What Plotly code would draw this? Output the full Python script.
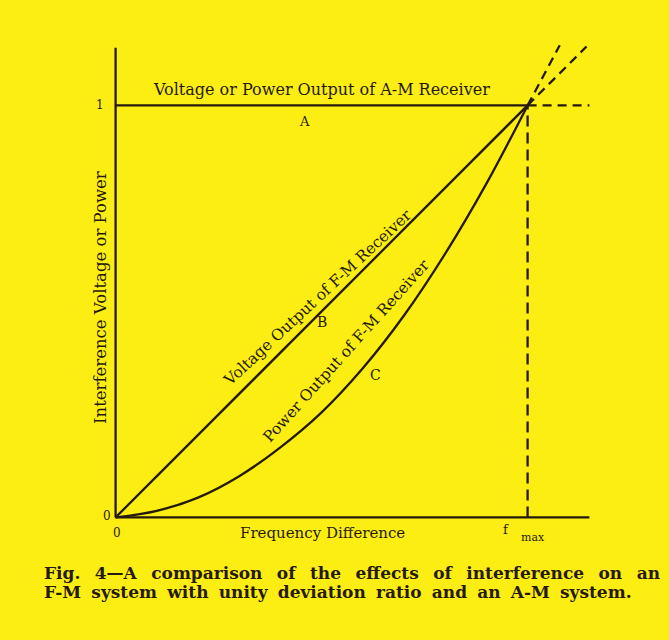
import plotly.graph_objects as go

# ---- data ----
freq = [0.0, 0.1, 0.2, 0.3, 0.4, 0.5, 0.6, 0.7, 0.8, 0.9, 1.0]
am_output = [1, 1, 1, 1, 1, 1, 1, 1, 1, 1, 1]            # curve A
fm_voltage = [0.0, 0.1, 0.2, 0.3, 0.4, 0.5, 0.6, 0.7, 0.8, 0.9, 1.0]  # curve B
fm_power = [0.0, 0.016, 0.048, 0.1, 0.17, 0.255, 0.362, 0.49, 0.64, 0.81, 1.0]  # curve C

ext_freq_a = [1.0, 1.15]
ext_a = [1.0, 1.0]
ext_freq_b = [1.0, 1.143]
ext_b = [1.0, 1.143]
ext_freq_c = [1.0, 1.078]
ext_c = [1.0, 1.146]
fmax_x = [1.0, 1.0]
fmax_y = [0.0, 1.0]
axis_x_end = 1.15
axis_y_end = 1.14

ink = "#261a0c"
bg = "#fcee12"
serif = "DejaVu Serif"

fig = go.Figure()

def line(x, y, dash="solid", shape="linear"):
    fig.add_trace(go.Scatter(x=x, y=y, mode="lines",
                             line=dict(color=ink, width=2.3, dash=dash, shape=shape),
                             hoverinfo="skip", showlegend=False))

# axes drawn as lines
line([0, axis_x_end], [0, 0])
line([0, 0], [0, axis_y_end])
# curves
line(freq, am_output)
line(freq, fm_voltage)
line(freq, fm_power, shape="spline")
# dashed extensions
line(ext_freq_a, ext_a, dash="9px,6px")
line(ext_freq_b, ext_b, dash="9px,6px")
line(ext_freq_c, ext_c, dash="9px,6px")
line(fmax_x, fmax_y, dash="11px,6px")

ann = []
def txt(x, y, s, size=14, angle=0, xref="x", yref="y", xa="center", ya="middle"):
    ann.append(dict(x=x, y=y, xref=xref, yref=yref, text=s,
                    showarrow=False, textangle=angle, xanchor=xa, yanchor=ya,
                    font=dict(family=serif, size=size, color=ink)))

def dx(px):
    return (px - 116) / 412.0
def dy(py):
    return (517 - py) / 412.0

txt(dx(322), dy(89), "Voltage or Power Output of A-M Receiver", size=16)
txt(dx(305), dy(121), "A", size=13)
txt(dx(318), dy(298), "Voltage Output of F-M Receiver", size=15.5, angle=-43)
txt(dx(322), dy(322), "B", size=14)
txt(dx(347), dy(351), "Power Output of F-M Receiver", size=15.5, angle=-48)
txt(dx(376), dy(375), "C", size=14)
txt(dx(101), dy(297), "Interference Voltage or Power", size=16.5, angle=-90)
txt(dx(323), dy(533), "Frequency Difference", size=15)
txt(dx(117), dy(533), "0", size=12)
txt(dx(107), dy(516), "0", size=12)
txt(dx(100), dy(105), "1", size=12)
txt(dx(506), dy(529), "f", size=13)
txt(dx(533), dy(537), "max", size=11)

fig.update_layout(annotations=ann)

# caption (pixel positions, converted below)
sp1 = " \u2002"
sp2 = " \u2005"
cap1 = "Fig. 4—A comparison of the effects of interference on an".replace(" ", sp1)
cap2 = "F-M system with unity deviation ratio and an A-M system.".replace(" ", sp2)
fig.add_annotation(x=42, y=573, xref="paper", yref="paper", showarrow=False,
                   text="<b>%s</b>" % cap1, xanchor="left", yanchor="middle",
                   font=dict(family=serif, size=17, color=ink))
fig.add_annotation(x=42, y=592, xref="paper", yref="paper", showarrow=False,
                   text="<b>%s</b>" % cap2, xanchor="left", yanchor="middle",
                   font=dict(family=serif, size=17, color=ink))

# layout so that data (0,0)->px(116,517), (1,1)->px(528,105)
W, H = 669, 640
scale = 412.0
x0, x1 = -0.05, 1.2
y0, y1 = -0.05, 1.2
ml = 116 - (0 - x0) * scale
mr = W - (ml + (x1 - x0) * scale)
mt = 517 - y1 * scale
mb = H - (mt + (y1 - y0) * scale)

fig.update_layout(
    width=W, height=H,
    margin=dict(l=ml, r=mr, t=mt, b=mb, pad=0),
    paper_bgcolor=bg, plot_bgcolor=bg,
    xaxis=dict(range=[x0, x1], visible=False, fixedrange=True),
    yaxis=dict(range=[y0, y1], visible=False, fixedrange=True),
    showlegend=False,
)

for a in fig.layout.annotations:
    if a.xref == "paper":
        px, py = a.x, a.y
        a.x = (px - ml) / ((x1 - x0) * scale)
        a.y = 1 - (py - mt) / ((y1 - y0) * scale)

fig.write_html("out.html", config={"displayModeBar": False},
               post_script="document.body.style.margin='0';document.body.style.background='%s';" % bg)
